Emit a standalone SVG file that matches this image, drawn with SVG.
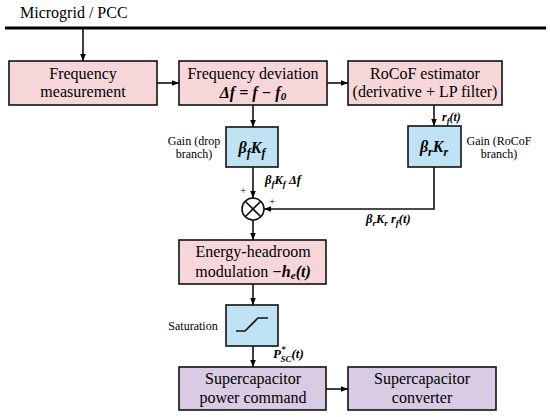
<svg xmlns="http://www.w3.org/2000/svg" width="550" height="417" viewBox="0 0 550 417" font-family="'Liberation Serif', 'DejaVu Serif', serif">
<defs>
<marker id="ah" viewBox="0 0 10 10" refX="10" refY="5" markerWidth="7" markerHeight="7" markerUnits="userSpaceOnUse" orient="auto">
<path d="M0,1 L10,5 L0,9 z" fill="#000"/>
</marker>
</defs>
<style>
.t{font-size:16px;text-anchor:middle}
.s{font-size:12px;text-anchor:middle}
.m{font-style:italic;font-weight:bold}
.pink{fill:#f6d6d9;stroke:#111;stroke-width:1.6}
.blue{fill:#bfe2f4;stroke:#111;stroke-width:1.6}
.purple{fill:#d9cbe3;stroke:#111;stroke-width:1.6}
.c{fill:none;stroke:#111;stroke-width:1.6}
</style>
<rect width="550" height="417" fill="#fff"/>
<g id="bus">
<line x1="5" y1="28" x2="546" y2="28" stroke="#000" stroke-width="3"/>
<text x="20" y="18" font-size="16">Microgrid / PCC</text>
</g>
<g id="connectors">
<line class="c" x1="83" y1="28" x2="83" y2="61" marker-end="url(#ah)"/>
<line class="c" x1="157" y1="83" x2="179" y2="83" marker-end="url(#ah)"/>
<line class="c" x1="327" y1="83" x2="348" y2="83" marker-end="url(#ah)"/>
<line class="c" x1="253" y1="105" x2="253" y2="127" marker-end="url(#ah)"/>
<line class="c" x1="434" y1="105" x2="434" y2="126" marker-end="url(#ah)"/>
<line class="c" x1="253" y1="167" x2="253" y2="198" marker-end="url(#ah)"/>
<polyline class="c" points="434,167 434,209 264,209" marker-end="url(#ah)"/>
<line class="c" x1="253" y1="220" x2="253" y2="240" marker-end="url(#ah)"/>
<line class="c" x1="253" y1="284" x2="253" y2="305" marker-end="url(#ah)"/>
<line class="c" x1="253" y1="346" x2="253" y2="367" marker-end="url(#ah)"/>
<line class="c" x1="326" y1="389" x2="348" y2="389" marker-end="url(#ah)"/>
<text x="442" y="121" class="m" font-size="12">r<tspan font-size="8.5" dy="3">f</tspan><tspan dy="-3">(t)</tspan></text>
<text x="265" y="184" class="m" font-size="12.5">β<tspan font-size="9" dy="3">f</tspan><tspan dy="-3">K</tspan><tspan font-size="9" dy="3">f</tspan><tspan dy="-3"> Δf</tspan></text>
<text x="366" y="223" class="m" font-size="12.5">β<tspan font-size="9" dy="3">r</tspan><tspan dy="-3">K</tspan><tspan font-size="9" dy="3">r</tspan><tspan dy="-3"> r</tspan><tspan font-size="9" dy="3">f</tspan><tspan dy="-3">(t)</tspan></text>
<text x="273" y="358" class="m" font-size="13">P<tspan font-size="9" dy="-6">*</tspan><tspan font-size="9" dx="-5" dy="10">SC</tspan><tspan dy="-4">(t)</tspan></text>
</g>
<g id="freq_meas">
<rect class="pink" x="9" y="61" width="148" height="44"/>
<text class="t" x="83" y="79">Frequency</text>
<text class="t" x="83" y="97">measurement</text>
</g>
<g id="freq_dev">
<rect class="pink" x="179" y="61" width="148" height="44"/>
<text class="t" x="253" y="79">Frequency deviation</text>
<text class="t m" x="253" y="98">Δf = f − f<tspan font-size="11" dy="2">0</tspan></text>
</g>
<g id="rocof">
<rect class="pink" x="348" y="61" width="154" height="44"/>
<text class="t" x="425" y="79">RoCoF estimator</text>
<text class="t" x="425" y="97">(derivative + LP filter)</text>
</g>
<g id="gain_f">
<rect class="blue" x="226" y="127" width="52" height="40"/>
<text x="252" y="153" class="t m" font-size="17">β<tspan font-size="12" dy="4">f</tspan><tspan dy="-4">K</tspan><tspan font-size="12" dy="4">f</tspan></text>
<text class="s" x="194" y="145">Gain (drop</text>
<text class="s" x="194" y="158">branch)</text>
</g>
<g id="gain_r">
<rect class="blue" x="408" y="126" width="53" height="41"/>
<text x="434" y="152" class="t m" font-size="17">β<tspan font-size="12" dy="4">r</tspan><tspan dy="-4">K</tspan><tspan font-size="12" dy="4">r</tspan></text>
<text class="s" x="499" y="145">Gain (RoCoF</text>
<text class="s" x="499" y="158">branch)</text>
</g>
<g id="sum">
<circle cx="253" cy="209" r="11" fill="#fff" stroke="#111" stroke-width="1.6"/>
<line class="c" x1="245.2" y1="201.2" x2="260.8" y2="216.8"/>
<line class="c" x1="260.8" y1="201.2" x2="245.2" y2="216.8"/>
<text x="243" y="194" font-size="11" text-anchor="middle">+</text>
<text x="272" y="205" font-size="11" text-anchor="middle">+</text>
</g>
<g id="energy">
<rect class="pink" x="179" y="240" width="147" height="44"/>
<text class="t" x="253" y="257">Energy-headroom</text>
<text class="t" x="253" y="277">modulation <tspan class="m">−h</tspan><tspan class="m" font-size="11" dy="2">e</tspan><tspan class="m" dy="-2">(t)</tspan></text>
</g>
<g id="saturation">
<rect class="blue" x="226" y="305" width="52" height="41"/>
<polyline class="c" points="236,331 245,331 258,318 268,318"/>
<text x="193" y="330" font-size="12" text-anchor="middle">Saturation</text>
</g>
<g id="sc_cmd">
<rect class="purple" x="179" y="367" width="147" height="43"/>
<text class="t" x="253" y="384">Supercapacitor</text>
<text class="t" x="253" y="403">power command</text>
</g>
<g id="sc_conv">
<rect class="purple" x="348" y="367" width="148" height="43"/>
<text class="t" x="422" y="384">Supercapacitor</text>
<text class="t" x="422" y="403">converter</text>
</g>
</svg>
